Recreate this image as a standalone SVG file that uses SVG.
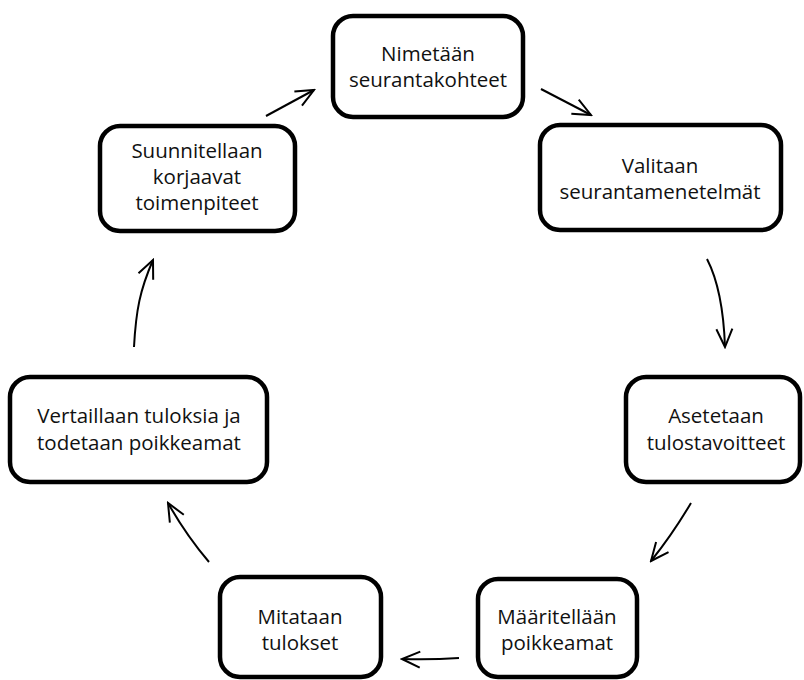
<svg xmlns="http://www.w3.org/2000/svg" width="804" height="680" viewBox="0 0 804 680">
<style>
.box{fill:#fff;stroke:#000;stroke-width:4.5}
.t{font-family:"Open Sans","Noto Sans",sans-serif;font-size:20.5px;fill:#111;text-anchor:middle}
.c{fill:none;stroke:#000;stroke-width:2;marker-end:url(#ah)}
</style>
<defs>
<marker id="ah" markerUnits="userSpaceOnUse" viewBox="-2 -10 22 20" refX="18" refY="0" markerWidth="22" markerHeight="20" orient="auto">
<path d="M0,-8 L18,0 L0,8" fill="none" stroke="#000" stroke-width="2"/>
</marker>
</defs>
<rect width="804" height="680" fill="#fff"/>
<g id="connectors">
<path class="c" d="M266,116 L314,90"/>
<path class="c" d="M541,89 L591,115"/>
<path class="c" d="M707,259 Q723,290 725,347"/>
<path class="c" d="M691,503 Q672,535 651,561"/>
<path class="c" d="M459,658 Q430,660 402,659"/>
<path class="c" d="M209,562 Q186,535 168,503"/>
<path class="c" d="M134,347 C136,310 140,290 153,260"/>
</g>
<g id="n1"><rect class="box" x="333" y="16" width="190" height="101" rx="20"/>
<text class="t" x="428" y="61">Nimetään</text><text class="t" x="428" y="87">seurantakohteet</text></g>
<g id="n2"><rect class="box" x="540" y="125" width="241" height="105" rx="20"/>
<text class="t" x="660" y="173">Valitaan</text><text class="t" x="660" y="199">seurantamenetelmät</text></g>
<g id="n3"><rect class="box" x="626" y="377" width="174" height="105" rx="20"/>
<text class="t" x="716" y="423">Asetetaan</text><text class="t" x="716" y="450">tulostavoitteet</text></g>
<g id="n4"><rect class="box" x="478" y="579" width="159" height="98" rx="20"/>
<text class="t" x="557" y="624">Määritellään</text><text class="t" x="557" y="650">poikkeamat</text></g>
<g id="n5"><rect class="box" x="220" y="577" width="161" height="100" rx="20"/>
<text class="t" x="300" y="624">Mitataan</text><text class="t" x="300" y="650">tulokset</text></g>
<g id="n6"><rect class="box" x="10" y="377" width="257" height="105" rx="20"/>
<text class="t" x="139" y="423">Vertaillaan tuloksia ja</text><text class="t" x="139" y="450">todetaan poikkeamat</text></g>
<g id="n7"><rect class="box" x="100" y="126" width="195" height="105" rx="20"/>
<text class="t" x="197" y="158">Suunnitellaan</text><text class="t" x="197" y="184">korjaavat</text><text class="t" x="197" y="210">toimenpiteet</text></g>
</svg>
